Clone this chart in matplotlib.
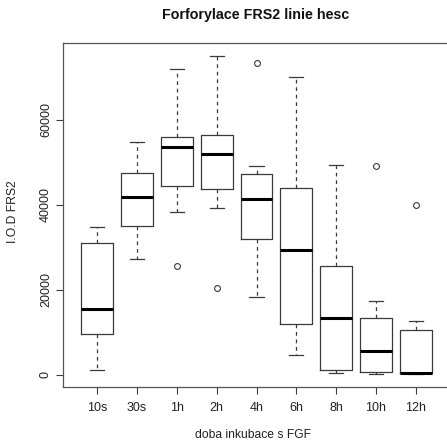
import matplotlib
matplotlib.use("Agg")
import matplotlib.pyplot as plt

plt.rcParams['font.family'] = ['Liberation Sans', 'DejaVu Sans']

# doba inkubace -> souhrnne statistiky
labels = ["10s", "30s", "1h", "2h", "4h", "6h", "8h", "10h", "12h"]
whislo = [1000, 27100, 38200, 39100, 18200, 4500, 300, 100, 200]
q1 = [9500, 35000, 44400, 43600, 32000, 12000, 1100, 500, 300]
med = [15400, 41800, 53600, 52000, 41300, 29300, 13400, 5500, 300]
q3 = [30900, 47300, 56000, 56400, 47100, 44000, 25600, 13400, 10400]
whishi = [34800, 54800, 72000, 75000, 49100, 70000, 49200, 17400, 12700]
fliers = [[], [], [25500], [20300], [73200], [], [], [49000], [40000]]

stats = []
for i, lab in enumerate(labels):
    stats.append(dict(label=lab, whislo=whislo[i], q1=q1[i], med=med[i],
                      q3=q3[i], whishi=whishi[i], fliers=fliers[i]))

line_col = '#3a3a3a'

fig = plt.figure(figsize=(4.47, 4.43), dpi=100)
ax = fig.add_axes([63 / 447, 1 - 386.7 / 443, 387 / 447, 343.4 / 443])

ax.bxp(stats, positions=range(1, len(labels) + 1), widths=0.8,
       boxprops=dict(color=line_col, linewidth=0.9),
       medianprops=dict(color='black', linewidth=2.2, solid_capstyle='butt'),
       whiskerprops=dict(color=line_col, linewidth=0.9, linestyle=(0, (3, 3))),
       capprops=dict(color=line_col, linewidth=0.9),
       capwidths=0.36,
       flierprops=dict(marker='o', markersize=4.2, markerfacecolor='none',
                       markeredgecolor=line_col, markeredgewidth=0.8))

ax.set_xlim(0.14, 9.86)
ax.set_ylim(-2870, 77930)

ax.set_yticks([0, 20000, 40000, 60000])
ax.set_yticklabels(["0", "20000", "40000", "60000"], rotation=90, va='center')
ax.set_xticks(range(1, len(labels) + 1))
ax.set_xticklabels(labels)

ax.tick_params(direction='out', length=5, width=0.8, color=line_col,
               labelsize=9, labelcolor='#222222')
ax.tick_params(axis='x', pad=6)
ax.tick_params(axis='y', pad=3)

for s in ax.spines.values():
    s.set_color('#555555')
    s.set_linewidth(0.9)

fig.text(256 / 447, 1 - 15 / 443, "Forforylace FRS2 linie hesc",
         ha='center', va='center', fontsize=10.3, fontweight='bold', color='#111111')
fig.text(253 / 447, 1 - 435 / 443, "doba inkubace s FGF",
         ha='center', va='center', fontsize=8.7, color='#222222')
fig.text(13 / 447, 1 - 212 / 443, "I.O.D FRS2", rotation=90,
         ha='center', va='center', fontsize=8.7, color='#222222')

fig.savefig("out.png", dpi=100)
